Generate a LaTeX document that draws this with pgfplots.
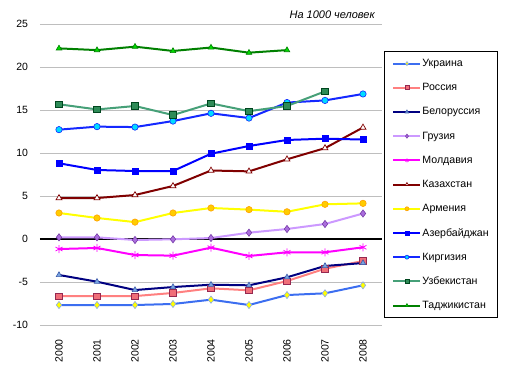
\documentclass[border=0pt]{standalone}
\usepackage{pgfplots}
\pgfplotsset{compat=1.18}
\usepackage{fontspec}
\setmainfont{Liberation Sans}
\definecolor{uaLine}{RGB}{60,110,240}
\definecolor{uaFill}{RGB}{255,255,0}
\definecolor{uaDraw}{RGB}{140,170,230}
\definecolor{ruLine}{RGB}{255,128,128}
\definecolor{ruFill}{RGB}{240,110,120}
\definecolor{ruDraw}{RGB}{150,40,80}
\definecolor{byLine}{RGB}{0,0,128}
\definecolor{byFill}{RGB}{120,165,225}
\definecolor{byDraw}{RGB}{60,90,170}
\definecolor{geLine}{RGB}{204,153,255}
\definecolor{geFill}{RGB}{170,110,220}
\definecolor{geDraw}{RGB}{120,60,170}
\definecolor{mdLine}{RGB}{255,0,255}
\definecolor{kzLine}{RGB}{128,0,0}
\definecolor{amLine}{RGB}{255,255,0}
\definecolor{amFill}{RGB}{255,204,0}
\definecolor{amDraw}{RGB}{255,160,0}
\definecolor{azLine}{RGB}{0,0,255}
\definecolor{kgLine}{RGB}{20,40,255}
\definecolor{kgFill}{RGB}{0,220,255}
\definecolor{uzLine}{RGB}{70,160,120}
\definecolor{uzFill}{RGB}{46,139,87}
\definecolor{uzDraw}{RGB}{0,70,30}
\definecolor{tjLine}{RGB}{0,128,0}
\definecolor{tjFill}{RGB}{0,220,0}
\definecolor{gridgray}{RGB}{190,190,190}
\begin{document}
\begin{tikzpicture}[x=1pt,y=1pt]
\useasboundingbox (0,0) rectangle (513,373);
\begin{axis}[
  at={(40pt,47.7pt)}, anchor=south west,
  scale only axis, width=342pt, height=301pt,
  xmin=1999.5, xmax=2008.5,
  ymin=-10, ymax=25,
  xtick={2000,...,2008},
  ytick={-10,-5,...,25},
  /pgf/number format/1000 sep={},
  /pgf/number format/assume math mode=true,
  ymajorgrids, grid style={gridgray, line width=0.8pt},
  axis line style={draw=none},
  major tick length=0pt,
  tick style={draw=none},
  ticklabel style={font=\fontsize{10.5}{12}\selectfont},
  y tick label style={anchor=east, inner sep=0pt, xshift=-11pt},
  x tick label style={yshift=-13pt, rotate=90, anchor=east, inner sep=0pt},
  extra y ticks={0}, extra y tick labels={},
  extra y tick style={grid style={black, line width=2pt}},
  line width=2pt,
  legend cell align=left,
  legend style={at={(1.006,0.024)}, anchor=south west, draw=black, line width=0.8pt,
    font=\fontsize{10.6}{13}\selectfont, row sep=0pt, inner xsep=8pt, inner ysep=0pt,
    nodes={inner xsep=1pt, inner ysep=0pt, minimum height=24.2pt}},
  legend image code/.code={\draw[line width=2pt, mark repeat=2,mark phase=2,mark size=2pt] plot coordinates {(0pt,0pt) (13.5pt,0pt) (27pt,0pt)};},
]
\addplot[uaLine, mark=diamond*, mark size=3.6pt, mark options={solid, line width=0.6pt, fill=uaFill, draw=uaDraw}] coordinates {
(2000,-7.64) (2001,-7.64) (2002,-7.64) (2003,-7.52) (2004,-7.02) (2005,-7.64) (2006,-6.48) (2007,-6.28) (2008,-5.35)};
\addlegendentry{Украина}
\addplot[ruLine, mark=square*, mark size=3.2pt, mark options={solid, line width=0.6pt, fill=ruFill, draw=ruDraw}] coordinates {
(2000,-6.6) (2001,-6.6) (2002,-6.6) (2003,-6.24) (2004,-5.7) (2005,-5.93) (2006,-4.85) (2007,-3.42) (2008,-2.52)};
\addlegendentry{Россия}
\addplot[byLine, mark=triangle*, mark size=3.2pt, mark options={solid, line width=0.6pt, fill=byFill, draw=byDraw}] coordinates {
(2000,-4.15) (2001,-4.93) (2002,-5.9) (2003,-5.55) (2004,-5.28) (2005,-5.35) (2006,-4.42) (2007,-3.1) (2008,-2.76)};
\addlegendentry{Белоруссия}
\addplot[geLine, mark=diamond*, mark size=3.6pt, mark options={solid, line width=0.6pt, fill=geFill, draw=geDraw}] coordinates {
(2000,0.23) (2001,0.23) (2002,-0.08) (2003,0.0) (2004,0.15) (2005,0.77) (2006,1.2) (2007,1.78) (2008,3.0)};
\addlegendentry{Грузия}
\addplot[mdLine, mark=asterisk, mark size=4pt, mark options={solid, line width=0.8pt, draw=mdLine}] coordinates {
(2000,-1.13) (2001,-1.01) (2002,-1.83) (2003,-1.9) (2004,-0.97) (2005,-1.94) (2006,-1.51) (2007,-1.51) (2008,-0.93)};
\addlegendentry{Молдавия}
\addplot[kzLine, mark=triangle*, mark size=3.4pt, mark options={solid, line width=0.7pt, fill=white, draw=kzLine}] coordinates {
(2000,4.8) (2001,4.8) (2002,5.15) (2003,6.2) (2004,8.0) (2005,7.9) (2006,9.3) (2007,10.6) (2008,13.0)};
\addlegendentry{Казахстан}
\addplot[amLine, mark=*, mark size=3.2pt, mark options={solid, line width=0.6pt, fill=amFill, draw=amDraw}] coordinates {
(2000,3.06) (2001,2.48) (2002,2.0) (2003,3.06) (2004,3.64) (2005,3.45) (2006,3.2) (2007,4.07) (2008,4.18)};
\addlegendentry{Армения}
\addplot[azLine, mark=square*, mark size=3.0pt, mark options={solid, line width=0.6pt, fill=azLine, draw=azLine}] coordinates {
(2000,8.84) (2001,8.06) (2002,7.94) (2003,7.94) (2004,9.95) (2005,10.85) (2006,11.55) (2007,11.7) (2008,11.6)};
\addlegendentry{Азербайджан}
\addplot[kgLine, mark=*, mark size=3.2pt, mark options={solid, line width=0.6pt, fill=kgFill, draw=kgLine}] coordinates {
(2000,12.75) (2001,13.1) (2002,13.05) (2003,13.75) (2004,14.65) (2005,14.1) (2006,15.9) (2007,16.15) (2008,16.9)};
\addlegendentry{Киргизия}
\addplot[uzLine, mark=square*, mark size=3.2pt, mark options={solid, line width=0.7pt, fill=uzFill, draw=uzDraw}] coordinates {
(2000,15.7) (2001,15.1) (2002,15.5) (2003,14.45) (2004,15.8) (2005,14.9) (2006,15.5) (2007,17.2)};
\addlegendentry{Узбекистан}
\addplot[tjLine, mark=triangle*, mark size=3.2pt, mark options={solid, line width=0.6pt, fill=tjFill, draw=tjLine}] coordinates {
(2000,22.2) (2001,22.0) (2002,22.4) (2003,21.9) (2004,22.3) (2005,21.7) (2006,22.0)};
\addlegendentry{Таджикистан}
\end{axis}
\node[anchor=east, inner sep=0pt, font=\fontsize{11}{13}\selectfont\itshape] at (375,358) {На 1000 человек};
\end{tikzpicture}
\end{document}
